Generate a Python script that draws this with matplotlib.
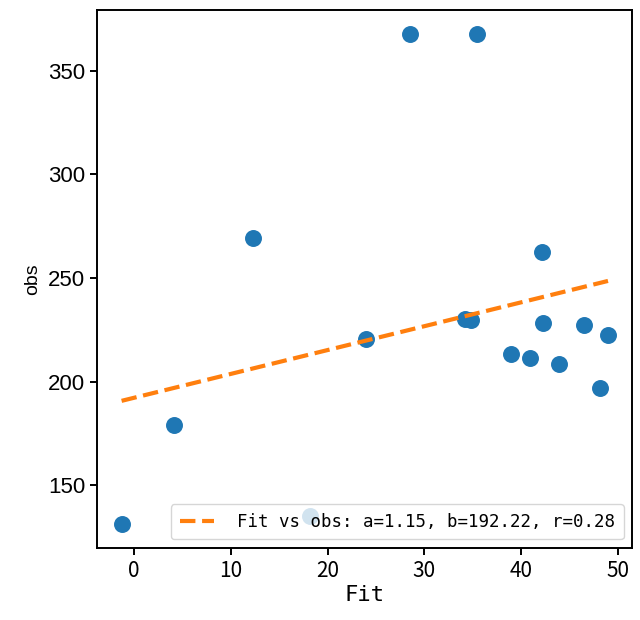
import numpy as np
import matplotlib
matplotlib.use('Agg')
import matplotlib.pyplot as plt

# data
fit = [-1.3, 4.1, 12.3, 18.2, 24.0, 28.5, 35.5, 34.2, 34.8, 39.0, 40.9, 42.2, 42.3, 43.9, 46.5, 48.2, 49.0]
obs = [131.5, 179.0, 269.5, 135.0, 220.5, 367.5, 367.5, 230.0, 229.5, 213.5, 211.5, 262.5, 228.5, 208.5, 227.5, 197.0, 222.5]

# regression parameters shown in legend
a = 1.15
b = 192.22
r = 0.28

fig = plt.figure(figsize=(6.4, 6.2), dpi=100)
ax = fig.add_axes([0.152, 0.116, 0.836, 0.868])

ax.scatter(fit, obs, s=125, color='C0', zorder=2)

xl = np.array([min(fit), max(fit)])
ax.plot(xl, a*xl + b, '--', color='C1', lw=3.0, zorder=3,
        label='Fit vs obs: a=%.2f, b=%.2f, r=%.2f' % (a, b, r))

for s in ax.spines.values():
    s.set_linewidth(1.4)
ax.tick_params(length=5, width=1.4)

ax.set_yticks([150, 200, 250, 300, 350])
ax.set_xticks([0, 10, 20, 30, 40, 50])
for t in ax.get_yticklabels():
    t.set_fontfamily('Liberation Sans')
    t.set_fontsize(16)
for t in ax.get_xticklabels():
    t.set_fontfamily('Noto Sans CJK SC')
    t.set_fontsize(15)

ax.set_xlabel('Fit', fontfamily='DejaVu Sans Mono', fontsize=16, labelpad=2)
ax.set_ylabel('obs', fontfamily='Liberation Sans', fontsize=14, labelpad=5)

leg = ax.legend(loc='lower right', prop={'family': 'DejaVu Sans Mono', 'size': 12.5},
                handlelength=2.0, handletextpad=1.3, borderpad=0.5)

fig.savefig('out.png', dpi=100)
